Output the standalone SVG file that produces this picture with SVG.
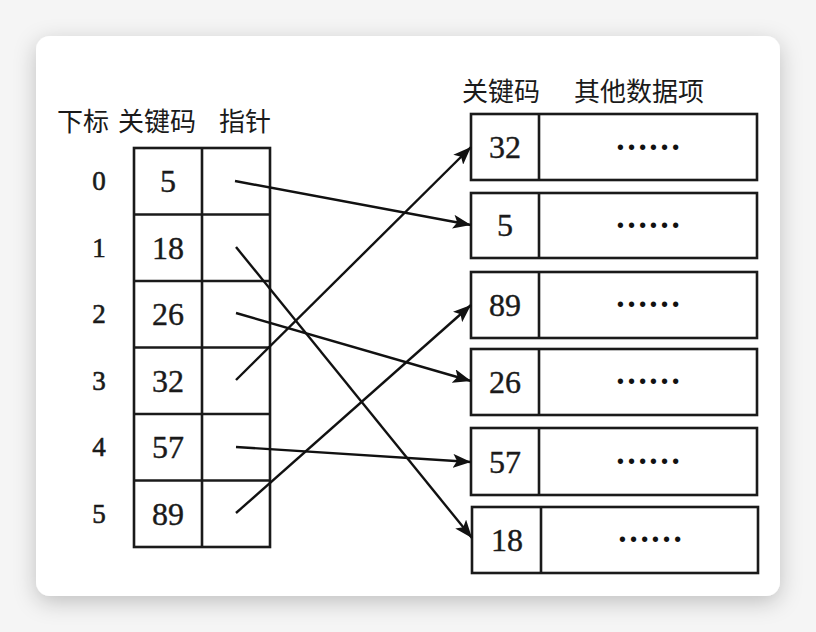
<svg xmlns="http://www.w3.org/2000/svg" width="816" height="632" viewBox="0 0 816 632">
  <defs>
    <filter id="shadow" x="-10%" y="-10%" width="120%" height="130%">
      <feDropShadow dx="0" dy="6" stdDeviation="11" flood-color="#000" flood-opacity="0.22"/>
    </filter>
    <marker id="arrow" markerUnits="userSpaceOnUse" markerWidth="20" markerHeight="14" refX="18" refY="7" orient="auto">
      <path d="M0,0 L18,7 L0,14 L4,7 Z" fill="#111"/>
    </marker>
    <style>
      .cell { fill: none; stroke: #1a1a1a; stroke-width: 2.6; }
      .cjk { font-family: "Noto Sans CJK SC", "Noto Sans", sans-serif; font-size: 26px; fill: #1a1a1a; }
      .num { font-family: "Liberation Serif", "Times New Roman", serif; font-size: 32px; fill: #1a1a1a; text-anchor: middle; stroke: #1a1a1a; stroke-width: 0.4; }
      .idx { font-family: "Liberation Serif", "Times New Roman", serif; font-size: 27px; fill: #1a1a1a; text-anchor: middle; stroke: #1a1a1a; stroke-width: 0.6; }
      .dots { font-family: "Liberation Serif", "Times New Roman", serif; font-size: 33px; font-weight: bold; fill: #111; text-anchor: middle; }
      .conn { fill: none; stroke: #111; stroke-width: 2.4; marker-end: url(#arrow); }
    </style>
  </defs>

  <rect x="0" y="0" width="816" height="632" fill="#f5f5f5"/>
  <rect id="card" x="36" y="36" width="744" height="560" rx="14" ry="14" fill="#ffffff" filter="url(#shadow)"/>

  <g id="left-header">
    <text class="cjk" x="57" y="131">下标</text>
    <text class="cjk" x="118" y="131">关键码</text>
    <text class="cjk" x="219" y="131">指针</text>
  </g>

  <g id="index-table">
    <rect class="cell" x="134" y="148" width="136" height="399"/>
    <line class="cell" x1="202" y1="148" x2="202" y2="547"/>
    <line class="cell" x1="134" y1="214.5" x2="270" y2="214.5"/>
    <line class="cell" x1="134" y1="281" x2="270" y2="281"/>
    <line class="cell" x1="134" y1="347.5" x2="270" y2="347.5"/>
    <line class="cell" x1="134" y1="414" x2="270" y2="414"/>
    <line class="cell" x1="134" y1="480.5" x2="270" y2="480.5"/>
  </g>

  <g id="row0"><text class="idx" x="99" y="190">0</text><text class="num" x="168" y="192">5</text></g>
  <g id="row1"><text class="idx" x="99" y="257">1</text><text class="num" x="168" y="259">18</text></g>
  <g id="row2"><text class="idx" x="99" y="323">2</text><text class="num" x="168" y="325">26</text></g>
  <g id="row3"><text class="idx" x="99" y="390">3</text><text class="num" x="168" y="392">32</text></g>
  <g id="row4"><text class="idx" x="99" y="456">4</text><text class="num" x="168" y="458">57</text></g>
  <g id="row5"><text class="idx" x="99" y="523">5</text><text class="num" x="168" y="525">89</text></g>

  <g id="right-header">
    <text class="cjk" x="462" y="101">关键码</text>
    <text class="cjk" x="574" y="101">其他数据项</text>
  </g>

  <g id="rec32">
    <rect class="cell" x="471" y="114" width="286" height="66"/>
    <line class="cell" x1="539" y1="114" x2="539" y2="180"/>
    <text class="num" x="505" y="158">32</text>
    <text class="dots" x="648" y="150">……</text>
  </g>
  <g id="rec5">
    <rect class="cell" x="471" y="193" width="286" height="65"/>
    <line class="cell" x1="539" y1="193" x2="539" y2="258"/>
    <text class="num" x="505" y="236">5</text>
    <text class="dots" x="648" y="228">……</text>
  </g>
  <g id="rec89">
    <rect class="cell" x="471" y="272" width="286" height="66"/>
    <line class="cell" x1="539" y1="272" x2="539" y2="338"/>
    <text class="num" x="505" y="316">89</text>
    <text class="dots" x="648" y="307">……</text>
  </g>
  <g id="rec26">
    <rect class="cell" x="471" y="349" width="286" height="66"/>
    <line class="cell" x1="539" y1="349" x2="539" y2="415"/>
    <text class="num" x="505" y="393">26</text>
    <text class="dots" x="648" y="384">……</text>
  </g>
  <g id="rec57">
    <rect class="cell" x="471" y="428" width="286" height="67"/>
    <line class="cell" x1="539" y1="428" x2="539" y2="495"/>
    <text class="num" x="505" y="473">57</text>
    <text class="dots" x="648" y="464">……</text>
  </g>
  <g id="rec18">
    <rect class="cell" x="472" y="507" width="286" height="66"/>
    <line class="cell" x1="541" y1="507" x2="541" y2="573"/>
    <text class="num" x="507" y="551">18</text>
    <text class="dots" x="650" y="542">……</text>
  </g>

  <g id="connectors">
    <line class="conn" x1="235" y1="181" x2="471" y2="225"/>
    <line class="conn" x1="236" y1="247" x2="472" y2="538"/>
    <line class="conn" x1="236" y1="313" x2="471" y2="381"/>
    <line class="conn" x1="236" y1="380" x2="471" y2="147"/>
    <line class="conn" x1="236" y1="447" x2="471" y2="462"/>
    <line class="conn" x1="236" y1="513" x2="471" y2="305"/>
  </g>
</svg>
